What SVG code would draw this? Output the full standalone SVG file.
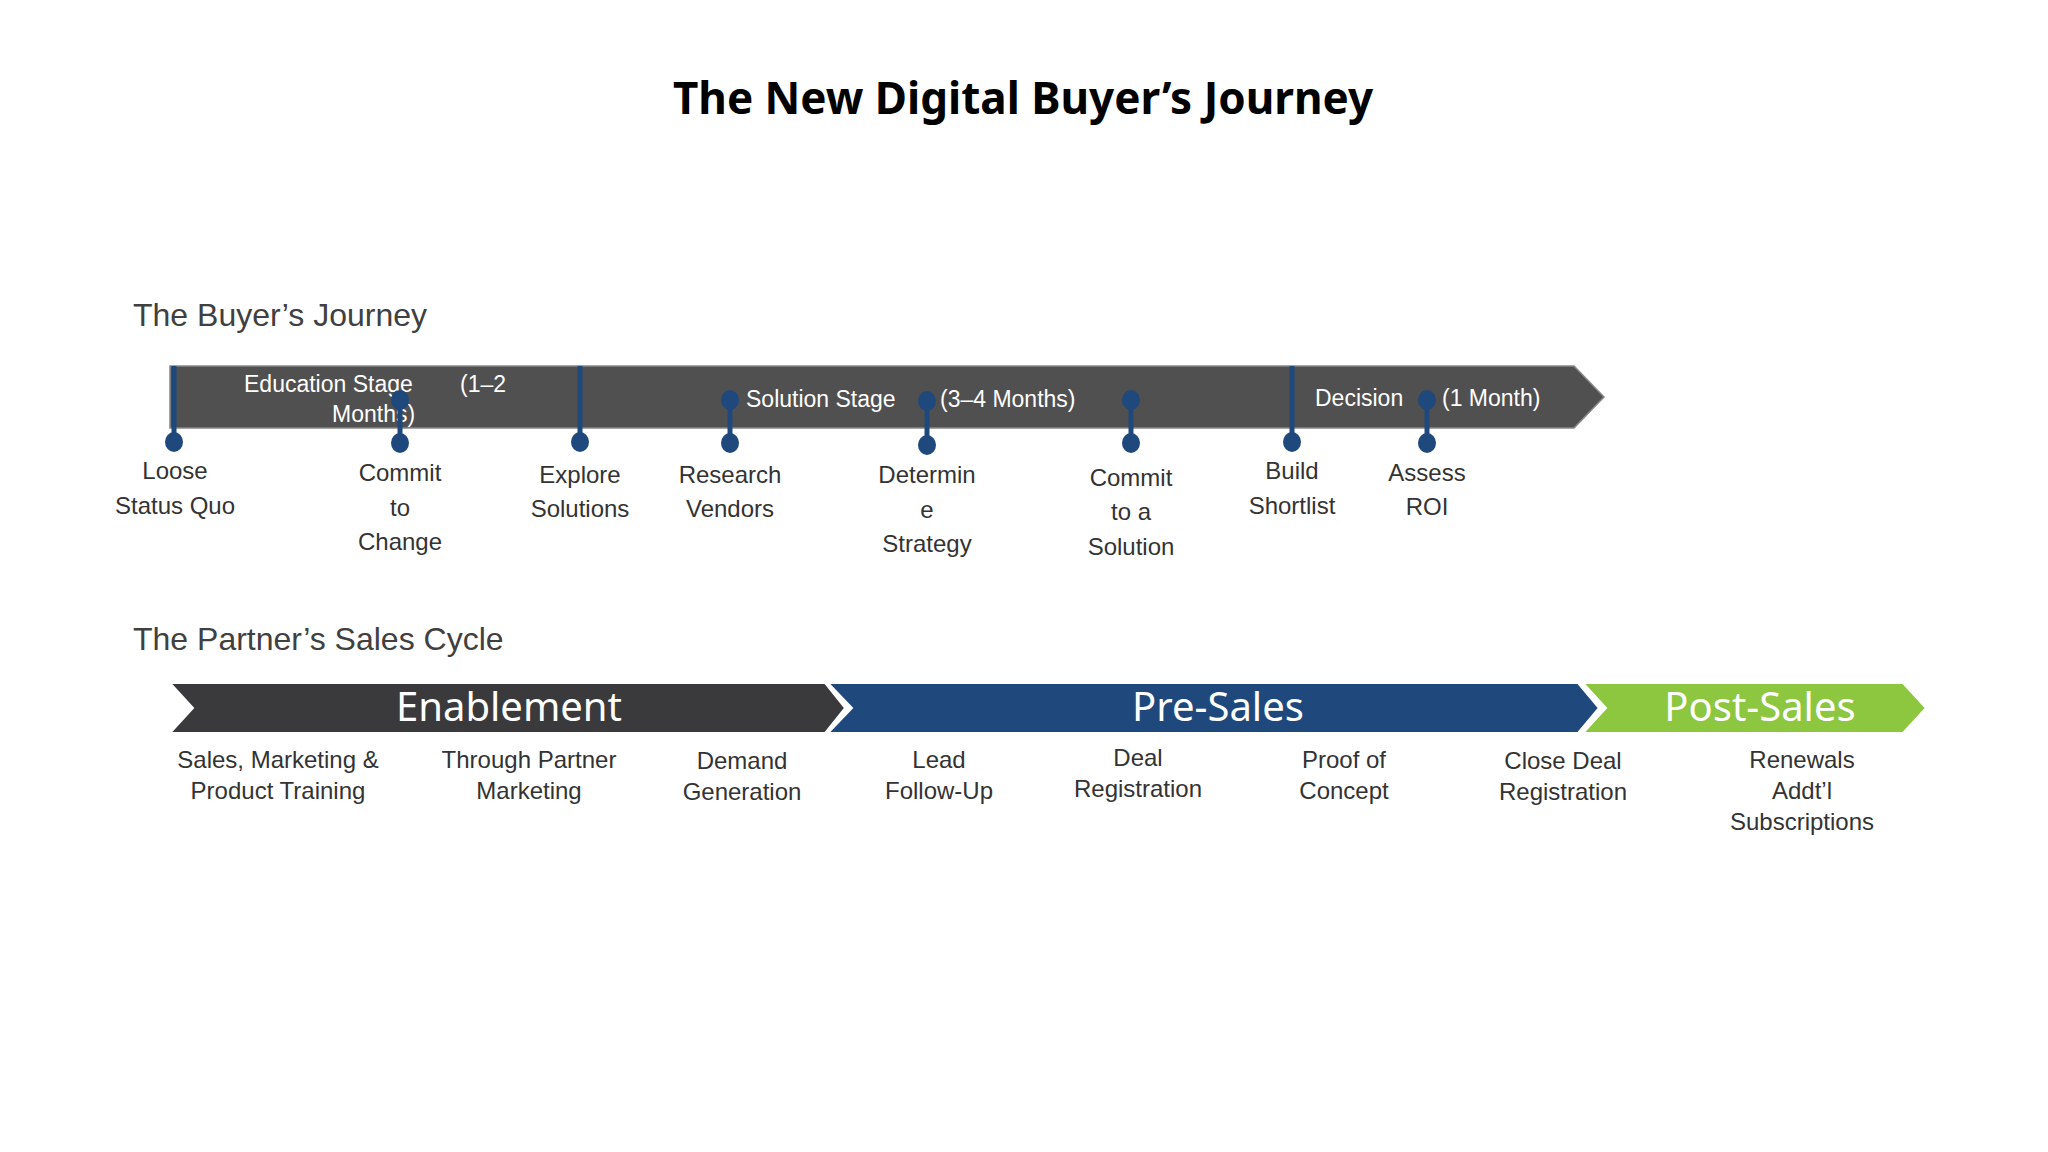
<svg xmlns="http://www.w3.org/2000/svg" width="2048" height="1152" viewBox="0 0 2048 1152">
<style>
text{font-family:"Liberation Sans",Arial,sans-serif}
.t{font-family:"Noto Sans","Open Sans",sans-serif;font-weight:bold;font-size:44px;fill:#000}
.h{font-size:32px;fill:#404040}
.w{font-size:23px;fill:#fff}
.l{font-size:24px;fill:#333;text-anchor:middle}
.c{font-family:"Noto Sans","Open Sans",sans-serif;font-size:40px;fill:#fff;text-anchor:middle}
.s{stroke:#1f497d;stroke-width:5}
.d{fill:#1f497d}
</style>
<text class="t" x="1023" y="114" text-anchor="middle">The New Digital Buyer’s Journey</text>
<text class="h" x="133" y="326">The Buyer’s Journey</text>
<g id="bar">
<polygon points="170,366 1574,366 1604,397 1574,428 170,428" fill="#505050" stroke="#888" stroke-width="1.5"/>
<text class="w" x="244" y="392">Education Stage</text><text class="w" x="460" y="392">(1–2</text>
<text class="w" x="332" y="422">Months)</text>
<text class="w" x="746" y="407">Solution Stage</text><text class="w" x="940" y="407">(3–4 Months)</text>
<text class="w" x="1315" y="406">Decision</text><text class="w" x="1442" y="406">(1 Month)</text>
</g>
<g id="connectors">
<line class="s" x1="174" y1="366" x2="174" y2="441"/>
<line class="s" x1="580" y1="366" x2="580" y2="441"/>
<line class="s" x1="1292" y1="366" x2="1292" y2="441"/>
<line class="s" x1="400" y1="400" x2="400" y2="443"/>
<line class="s" x1="730" y1="400" x2="730" y2="443"/>
<line class="s" x1="927" y1="401" x2="927" y2="445"/>
<line class="s" x1="1131" y1="400" x2="1131" y2="443"/>
<line class="s" x1="1427" y1="400" x2="1427" y2="443"/>
</g>
<g id="dots">
<ellipse class="d" cx="174" cy="442" rx="9" ry="10"/>
<ellipse class="d" cx="580" cy="442" rx="9" ry="10"/>
<ellipse class="d" cx="1292" cy="442" rx="9" ry="10"/>
<ellipse class="d" cx="400" cy="400" rx="9" ry="10"/><ellipse class="d" cx="400" cy="443" rx="9" ry="10"/>
<ellipse class="d" cx="730" cy="400" rx="9" ry="10"/><ellipse class="d" cx="730" cy="443" rx="9" ry="10"/>
<ellipse class="d" cx="927" cy="401" rx="9" ry="10"/><ellipse class="d" cx="927" cy="445" rx="9" ry="10"/>
<ellipse class="d" cx="1131" cy="400" rx="9" ry="10"/><ellipse class="d" cx="1131" cy="443" rx="9" ry="10"/>
<ellipse class="d" cx="1427" cy="400" rx="9" ry="10"/><ellipse class="d" cx="1427" cy="443" rx="9" ry="10"/>
</g>
<g id="m1"><text class="l" x="175" y="479">Loose</text><text class="l" x="175" y="514">Status Quo</text></g>
<g id="m2"><text class="l" x="400" y="481">Commit</text><text class="l" x="400" y="516">to</text><text class="l" x="400" y="550">Change</text></g>
<g id="m3"><text class="l" x="580" y="483">Explore</text><text class="l" x="580" y="517">Solutions</text></g>
<g id="m4"><text class="l" x="730" y="483">Research</text><text class="l" x="730" y="517">Vendors</text></g>
<g id="m5"><text class="l" x="927" y="483">Determin</text><text class="l" x="927" y="518">e</text><text class="l" x="927" y="552">Strategy</text></g>
<g id="m6"><text class="l" x="1131" y="486">Commit</text><text class="l" x="1131" y="520">to a</text><text class="l" x="1131" y="555">Solution</text></g>
<g id="m7"><text class="l" x="1292" y="479">Build</text><text class="l" x="1292" y="514">Shortlist</text></g>
<g id="m8"><text class="l" x="1427" y="481">Assess</text><text class="l" x="1427" y="515">ROI</text></g>
<text class="h" x="133" y="650">The Partner’s Sales Cycle</text>
<g id="enablement"><polygon points="170,683 825,683 845,708 825,733 170,733 193,708" fill="#3a3a3c" stroke="#fff" stroke-width="2"/><text class="c" x="509" y="721">Enablement</text></g>
<g id="presales"><polygon points="828,683 1578,683 1599,708 1578,733 828,733 852,708" fill="#1f497d" stroke="#fff" stroke-width="2"/><text class="c" x="1218" y="721">Pre-Sales</text></g>
<g id="postsales"><polygon points="1583,683 1903,683 1926,708 1903,733 1583,733 1606,708" fill="#8dc63f" stroke="#fff" stroke-width="2"/><text class="c" x="1760" y="721">Post-Sales</text></g>
<g id="s1"><text class="l" x="278" y="768">Sales, Marketing &amp;</text><text class="l" x="278" y="799">Product Training</text></g>
<g id="s2"><text class="l" x="529" y="768">Through Partner</text><text class="l" x="529" y="799">Marketing</text></g>
<g id="s3"><text class="l" x="742" y="769">Demand</text><text class="l" x="742" y="800">Generation</text></g>
<g id="s4"><text class="l" x="939" y="768">Lead</text><text class="l" x="939" y="799">Follow-Up</text></g>
<g id="s5"><text class="l" x="1138" y="766">Deal</text><text class="l" x="1138" y="797">Registration</text></g>
<g id="s6"><text class="l" x="1344" y="768">Proof of</text><text class="l" x="1344" y="799">Concept</text></g>
<g id="s7"><text class="l" x="1563" y="769">Close Deal</text><text class="l" x="1563" y="800">Registration</text></g>
<g id="s8"><text class="l" x="1802" y="768">Renewals</text><text class="l" x="1802" y="799">Addt’l</text><text class="l" x="1802" y="830">Subscriptions</text></g>
</svg>
